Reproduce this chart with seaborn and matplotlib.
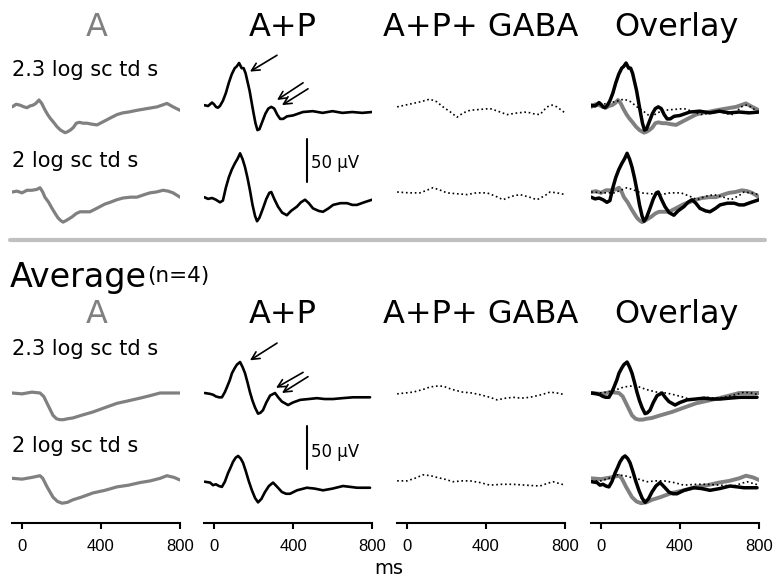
import matplotlib
import seaborn as sns

matplotlib.use("Agg")
import matplotlib.pyplot as plt
from matplotlib.lines import Line2D


# ---- single-animal traces (top panel), time in ms, amplitude in uV ----
t_a_hi = [-50, -30, -10, 10, 25, 40, 56, 70, 86, 100, 115, 130, 142, 160, 177, 195, 210, 218, 230,
          245, 260, 275, 290, 310, 329, 350, 380, 405, 430, 455, 481, 510, 540, 582, 633, 684, 734, 765, 800]
uv_a_hi = [-1, 2, 1, -1, -2, 0, 1, 3, 7, 3, -4, -10, -14, -19, -24, -28, -30, -31, -30,
           -28, -25, -20, -19, -20, -20, -21, -22, -19, -16, -13, -10, -8, -7, -5, -3, -1, 3, -1, -5]

t_a_lo = [-50, -25, 0, 25, 50, 75, 91, 105, 116, 135, 152, 168, 182, 195, 208, 225, 253, 275, 294,
          320, 344, 370, 395, 420, 446, 480, 511, 550, 582, 620, 648, 680, 714, 740, 765, 800]
uv_a_lo = [0, 1, -1, 2, 2, 3, 5, 0, -6, -12, -19, -25, -30, -33, -35, -33, -29, -25, -23,
           -23, -23, -20, -17, -14, -12, -9, -7, -6, -6, -3, -1, 0, 2, 1, -1, -6]

t_ap_hi = [-50, -30, -10, 0, 10, 20, 30, 45, 60, 75, 90, 105, 115, 127, 140, 150, 160, 170, 180, 190,
           200, 210, 220, 230, 245, 260, 275, 290, 305, 320, 335, 350, 370, 400, 450, 500, 550, 600,
           650, 700, 750, 800]
uv_ap_hi = [1, 0, 4, 2, -1, -2, 0, 6, 15, 27, 37, 44, 46, 50, 44, 44, 38, 28, 18, 5,
            -8, -20, -28, -27, -18, -9, -3, -1, -3, -10, -15, -15, -12, -11, -7, -6, -8, -6,
            -8, -7, -8, -7]

t_ap_lo = [-50, -30, -10, 10, 30, 45, 60, 75, 90, 105, 120, 132, 145, 157, 170, 182, 195, 208, 218,
           230, 248, 265, 280, 290, 305, 324, 345, 369, 390, 420, 440, 461, 480, 501, 530, 552, 580,
           603, 640, 674, 700, 724, 760, 800]
uv_ap_lo = [-6, -8, -7, -9, -12, -10, 5, 17, 26, 33, 39, 45, 38, 29, 16, 2, -15, -28, -34,
            -30, -19, -8, -1, 0, -8, -17, -24, -27, -22, -17, -12, -9, -13, -19, -22, -23, -19,
            -15, -13, -13, -15, -15, -12, -9]

t_gaba_hi = [-50, -10, 30, 70, 116, 150, 182, 220, 253, 285, 319, 370, 420, 460, 506, 560, 607,
             640, 673, 709, 735, 759, 800]
uv_gaba_hi = [-1, 1, 3, 5, 8, 5, -1, -7, -13, -8, -5, -4, -3, -6, -10, -8, -7, -9, -10, -1, 1, -1, -8]

t_gaba_lo = [-50, 10, 66, 100, 132, 170, 202, 250, 304, 350, 405, 450, 486, 530, 572, 620, 658,
             700, 724, 760, 800]
uv_gaba_lo = [0, -1, -1, 2, 5, 2, -1, -2, -3, -1, -1, -5, -9, -5, -3, -6, -9, -4, 0, -1, -3]

# ---- average traces (bottom panel, n=4) ----
avg_t_a_hi = [-50, 0, 50, 91, 110, 127, 142, 157, 175, 192, 210, 230, 258, 300, 360, 420, 481,
              540, 597, 650, 699, 750, 800]
avg_uv_a_hi = [0, -1, 1, 0, -4, -12, -19, -26, -30, -31, -31, -30, -29, -26, -22, -17, -12,
               -9, -6, -3, 0, 0, 0]

avg_t_a_lo = [-50, 0, 50, 91, 105, 127, 142, 157, 180, 203, 230, 258, 300, 360, 420, 481, 540,
              597, 650, 700, 734, 770, 800]
avg_uv_a_lo = [2, 1, 3, 5, 2, -8, -14, -20, -25, -27, -26, -23, -20, -15, -12, -8, -6,
               -3, -1, 2, 5, 3, 0]

avg_t_ap_hi = [-47, -20, -5, 10, 25, 40, 55, 66, 80, 91, 105, 116, 132, 145, 157, 170, 182, 195,
               208, 223, 235, 248, 265, 284, 309, 325, 344, 375, 400, 436, 480, 521, 560, 603,
               650, 704, 750, 790]
avg_uv_ap_hi = [0, -1, -2, -4, -5, -5, 1, 7, 15, 23, 29, 33, 36, 30, 23, 12, 1, -9,
                -17, -24, -23, -20, -11, -3, 0, -5, -10, -14, -11, -8, -7, -6, -7, -7,
                -6, -5, -5, -5]

avg_t_ap_lo = [-47, -20, -5, 10, 25, 40, 55, 71, 85, 96, 110, 122, 135, 147, 160, 177, 192, 208,
               223, 240, 258, 278, 299, 320, 344, 365, 385, 420, 470, 510, 552, 600, 653, 690,
               724, 760, 790]
avg_uv_ap_lo = [-2, -3, -6, -5, -7, -8, -2, 8, 15, 21, 26, 28, 25, 20, 11, -2, -12, -21,
                -26, -22, -14, -7, -3, -8, -14, -16, -16, -12, -9, -10, -12, -10, -7, -8,
                -9, -9, -9]

avg_t_gaba_hi = [-50, 30, 80, 116, 150, 182, 230, 283, 330, 370, 420, 456, 500, 537, 580, 622,
                 680, 724, 760, 800]
avg_uv_gaba_hi = [-1, 1, 4, 7, 8, 8, 4, 1, 0, -2, -5, -8, -6, -5, -6, -5, -2, 1, 0, -2]

avg_t_gaba_lo = [-50, 0, 40, 81, 120, 152, 190, 233, 280, 319, 370, 420, 480, 537, 600, 673,
                 710, 739, 770, 800]
avg_uv_gaba_lo = [-1, -1, 2, 6, 5, 3, 1, -2, -1, -1, -3, -6, -5, -5, -6, -7, -4, -2, -4, -6]

col_titles = ["A", "A+P", "A+P+ GABA", "Overlay"]
row_labels = ["2.3 log sc td s", "2 log sc td s"]
x_ticks = [0, 400, 800]

# ---- layout (pixels) ----
W, H = 773, 578
PX_PER_MS = 79 / 400
PX_PER_UV = 0.86
Y_HALF = 70
COL_ZERO_PX = [22, 214, 407, 601]
TITLE_X_PX = [97, 283, 481, 677]
GRAY = "#808080"


def fx(px):
    return px / W


def fy(px):
    return 1 - px / H


def trace_ax(fig, col, base_px):
    left = COL_ZERO_PX[col] - 50 * PX_PER_MS
    width = 850 * PX_PER_MS
    h = 2 * Y_HALF * PX_PER_UV
    ax = fig.add_axes([fx(left), fy(base_px + h / 2), width / W, h / H])
    ax.set_xlim(-50, 800)
    ax.set_ylim(-Y_HALF, Y_HALF)
    ax.axis("off")
    return ax


def draw(ax, t, uv, kind, overlay=False):
    if kind == "a":
        sns.lineplot(x=t, y=uv, ax=ax, color=GRAY, lw=2.8 if overlay else 2.3,
                     estimator=None, sort=False)
    elif kind == "ap":
        sns.lineplot(x=t, y=uv, ax=ax, color="black", lw=2.5 if overlay else 1.9,
                     estimator=None, sort=False)
    else:
        sns.lineplot(x=t, y=uv, ax=ax, color="black", lw=1.2, linestyle=":",
                     estimator=None, sort=False)


def section(fig, rows, bases, arrows, bar):
    for r, (a, ap, gaba) in enumerate(rows):
        base = bases[r]
        axs = [trace_ax(fig, c, base) for c in range(4)]
        draw(axs[0], *a, "a")
        draw(axs[1], *ap, "ap")
        draw(axs[2], *gaba, "gaba")
        draw(axs[3], *a, "a", overlay=True)
        draw(axs[3], *gaba, "gaba", overlay=True)
        draw(axs[3], *ap, "ap", overlay=True)
        if r == 0:
            for tip, tail in arrows:
                axs[1].annotate("", xy=tip, xytext=tail, annotation_clip=False,
                                arrowprops=dict(arrowstyle="->", color="black",
                                                lw=1.2, mutation_scale=14,
                                                shrinkA=0, shrinkB=0))
        else:
            bx, by0, by1, ty = bar
            axs[1].plot([bx, bx], [by0, by1], color="black", lw=1.5, clip_on=False)
            axs[1].text(bx + 20, ty, "50 \u03bcV", fontsize=12, va="center", ha="left")


def main() -> None:
    sns.set_theme(style="white")
    plt.rcParams["font.family"] = ["DejaVu Sans"]
    plt.rcParams["text.color"] = "black"

    fig = plt.figure(figsize=(W / 100, H / 100), dpi=100)

    # top panel: single recording
    for x, title in zip(TITLE_X_PX, col_titles):
        fig.text(fx(x), fy(36), title, ha="center", va="baseline", fontsize=23,
                 color=GRAY if title == "A" else "black")
    fig.text(fx(12), fy(76), row_labels[0], fontsize=15, va="baseline")
    fig.text(fx(12), fy(167), row_labels[1], fontsize=15, va="baseline")
    section(
        fig,
        [((t_a_hi, uv_a_hi), (t_ap_hi, uv_ap_hi), (t_gaba_hi, uv_gaba_hi)),
         ((t_a_lo, uv_a_lo), (t_ap_lo, uv_ap_lo), (t_gaba_lo, uv_gaba_lo))],
        [106, 192],
        [((182, 40), (319, 59)), ((319, 7), (451, 27)), ((344, 1), (476, 20))],
        (471, 12, 62, 34),
    )

    fig.add_artist(Line2D([fx(10), fx(765)], [fy(240), fy(240)], lw=3,
                          color="#c0c0c0", transform=fig.transFigure))

    # bottom panel: average
    fig.text(fx(10), fy(287), "Average", fontsize=24, va="baseline")
    fig.text(fx(147), fy(282), "(n=4)", fontsize=15.5, va="baseline")
    for x, title in zip(TITLE_X_PX, col_titles):
        fig.text(fx(x), fy(323), title, ha="center", va="baseline", fontsize=23,
                 color=GRAY if title == "A" else "black")
    fig.text(fx(12), fy(355), row_labels[0], fontsize=15, va="baseline")
    fig.text(fx(12), fy(452), row_labels[1], fontsize=15, va="baseline")
    section(
        fig,
        [((avg_t_a_hi, avg_uv_a_hi), (avg_t_ap_hi, avg_uv_ap_hi), (avg_t_gaba_hi, avg_uv_gaba_hi)),
         ((avg_t_a_lo, avg_uv_a_lo), (avg_t_ap_lo, avg_uv_ap_lo), (avg_t_gaba_lo, avg_uv_gaba_lo))],
        [393, 480],
        [((182, 38), (319, 58)), ((314, 6), (451, 24)), ((344, 0), (476, 19))],
        (471, 13, 63, 33),
    )

    # time axes under each column
    for c in range(4):
        left = COL_ZERO_PX[c] - 50 * PX_PER_MS
        ax = fig.add_axes([fx(left), fy(523), 850 * PX_PER_MS / W, 0.0001])
        ax.set_xlim(-50, 800)
        ax.set_yticks([])
        ax.set_xticks(x_ticks)
        ax.set_xticklabels([str(v) for v in x_ticks], fontsize=12,
                           fontfamily=["Liberation Sans", "DejaVu Sans"])
        ax.set_facecolor("none")
        for side in ["top", "left", "right"]:
            ax.spines[side].set_visible(False)
        ax.spines["bottom"].set_color("black")
        ax.spines["bottom"].set_linewidth(1.5)
        ax.tick_params(axis="x", direction="out", length=4.5, width=1.5,
                       pad=7, colors="black", bottom=True)
    fig.text(fx(389), fy(568), "ms", ha="center", va="center", fontsize=14)

    fig.savefig("out.png", dpi=100)
    plt.close(fig)


if __name__ == "__main__":
    main()
